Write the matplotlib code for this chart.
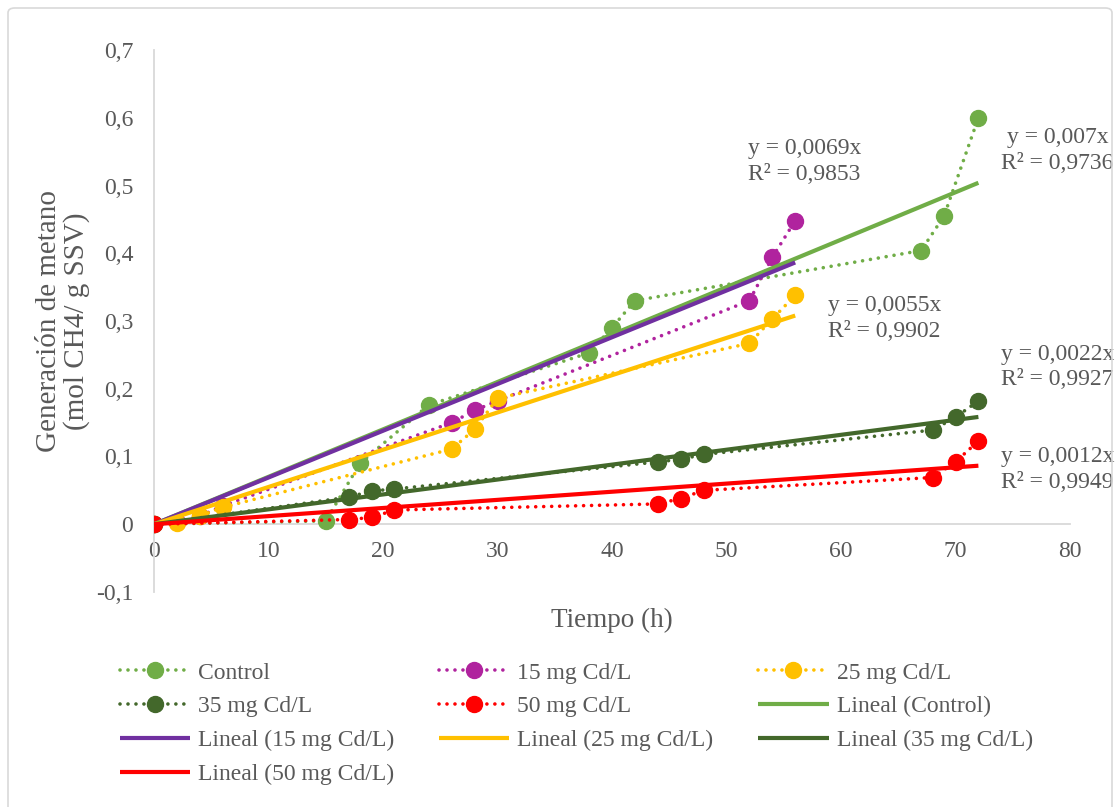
import matplotlib.pyplot as plt
from matplotlib.patches import FancyBboxPatch

plt.rcParams['font.family'] = ['Liberation Serif', 'DejaVu Serif']

# datos
t_control = [0, 15, 18, 24, 38, 40, 42, 67, 69, 72]
y_control = [0, 0.005, 0.09, 0.176, 0.253, 0.29, 0.33, 0.404, 0.455, 0.6]

t_15 = [0, 2, 4, 6, 26, 28, 30, 52, 54, 56]
y_15 = [0, 0.003, 0.012, 0.027, 0.15, 0.168, 0.182, 0.33, 0.394, 0.448]

t_25 = [0, 2, 4, 6, 26, 28, 30, 52, 54, 56]
y_25 = [0, 0.002, 0.012, 0.025, 0.111, 0.14, 0.186, 0.267, 0.303, 0.338]

t_35 = [0, 17, 19, 21, 44, 46, 48, 68, 70, 72]
y_35 = [0, 0.04, 0.049, 0.052, 0.092, 0.096, 0.103, 0.139, 0.158, 0.182]

t_50 = [0, 17, 19, 21, 44, 46, 48, 68, 70, 72]
y_50 = [0, 0.007, 0.01, 0.021, 0.03, 0.038, 0.05, 0.069, 0.092, 0.123]

names = ['Control', '15 mg Cd/L', '25 mg Cd/L', '35 mg Cd/L', '50 mg Cd/L']
slopes = [0.007, 0.0069, 0.0055, 0.0022, 0.0012]
r2 = ['0,9736', '0,9853', '0,9902', '0,9927', '0,9949']
slope_txt = ['0,007', '0,0069', '0,0055', '0,0022', '0,0012']

dot_colors = ['#70AD47', '#B0239E', '#FFC000', '#43682B', '#FF0000']
fit_colors = ['#70AD47', '#7030A0', '#FFC000', '#43682B', '#FF0000']
# posicion de las ecuaciones (coordenadas de datos)
eq_pos = [(78.9, 0.552), (56.8, 0.536), (63.8, 0.304), (78.9, 0.232), (78.9, 0.081)]

series = [(t_control, y_control), (t_15, y_15), (t_25, y_25), (t_35, y_35), (t_50, y_50)]

gray = '#595959'

fig = plt.figure(figsize=(11.15, 8.07), dpi=100)
ax = fig.add_axes([154 / 1115, 1 - 592 / 807, 916 / 1115, 542 / 807])

dot_handles = []
for (t, y), name, c in zip(series, names, dot_colors):
    h, = ax.plot(t, y, linestyle=(0, (0.01, 2.2)), dash_capstyle='round', lw=2.6,
                 color=c, marker='o', markersize=11.5, label=name, zorder=3)
    dot_handles.append(h)

fit_handles = []
for (t, y), name, c, m in zip(series, names, fit_colors, slopes):
    xs = [0, max(t)]
    h, = ax.plot(xs, [m * v for v in xs], color=c, lw=3, solid_capstyle='butt',
                 label='Lineal (' + name + ')', zorder=4)
    fit_handles.append(h)

for (x, y), s, r in zip(eq_pos, slope_txt, r2):
    ax.text(x, y, 'y = ' + s + 'x\nR² = ' + r, ha='center', va='center',
            fontsize=17, color=gray, linespacing=1.3, clip_on=False)

ax.set_xlim(0, 80)
ax.set_ylim(-0.1, 0.7)
ax.set_xticks(range(0, 81, 10))
ax.set_yticks([-0.1, 0, 0.1, 0.2, 0.3, 0.4, 0.5, 0.6, 0.7])
ax.set_yticklabels(['-0,1', '0', '0,1', '0,2', '0,3', '0,4', '0,5', '0,6', '0,7'])

ax.spines['top'].set_visible(False)
ax.spines['right'].set_visible(False)
ax.spines['bottom'].set_position(('data', 0))
ax.spines['bottom'].set_color('#D9D9D9')
ax.spines['left'].set_color('#D9D9D9')
ax.spines['bottom'].set_linewidth(1.3)
ax.spines['left'].set_linewidth(1.3)
ax.spines['bottom'].set_zorder(1)
ax.tick_params(axis='x', length=0, pad=12, labelsize=17, labelcolor=gray)
ax.tick_params(axis='y', length=0, pad=15, labelsize=17, labelcolor=gray)

ax.set_xlabel('Tiempo (h)', fontsize=19.5, color=gray)
ax.xaxis.set_label_coords(0.5, -0.03)
ax.set_ylabel('Generación de metano\n(mol CH4/ g SSV)', fontsize=21, color=gray,
              linespacing=1.05)
ax.yaxis.set_label_coords(-0.07, 0.5)

# orden por filas como en Excel
h = dot_handles + fit_handles
order = [0, 3, 6, 9, 1, 4, 7, 2, 5, 8]
leg = fig.legend([h[i] for i in order], [h[i].get_label() for i in order],
                 loc='upper left', bbox_to_anchor=(120 / 1115, 1 - 662 / 807),
                 ncol=3, frameon=False, fontsize=17, handlelength=2.97,
                 handletextpad=0.34, columnspacing=1.9, labelspacing=0.52,
                 borderpad=0, borderaxespad=0)
for txt in leg.get_texts():
    txt.set_color(gray)

border = FancyBboxPatch((8 / 1115, -0.02), 1104 / 1115, 1 - 8 / 807 + 0.02,
                        boxstyle='round,pad=0,rounding_size=0.006',
                        transform=fig.transFigure, fill=False,
                        edgecolor='#D9D9D9', lw=1.2)
fig.patches.append(border)

fig.savefig('out.png', dpi=100, facecolor='white')
